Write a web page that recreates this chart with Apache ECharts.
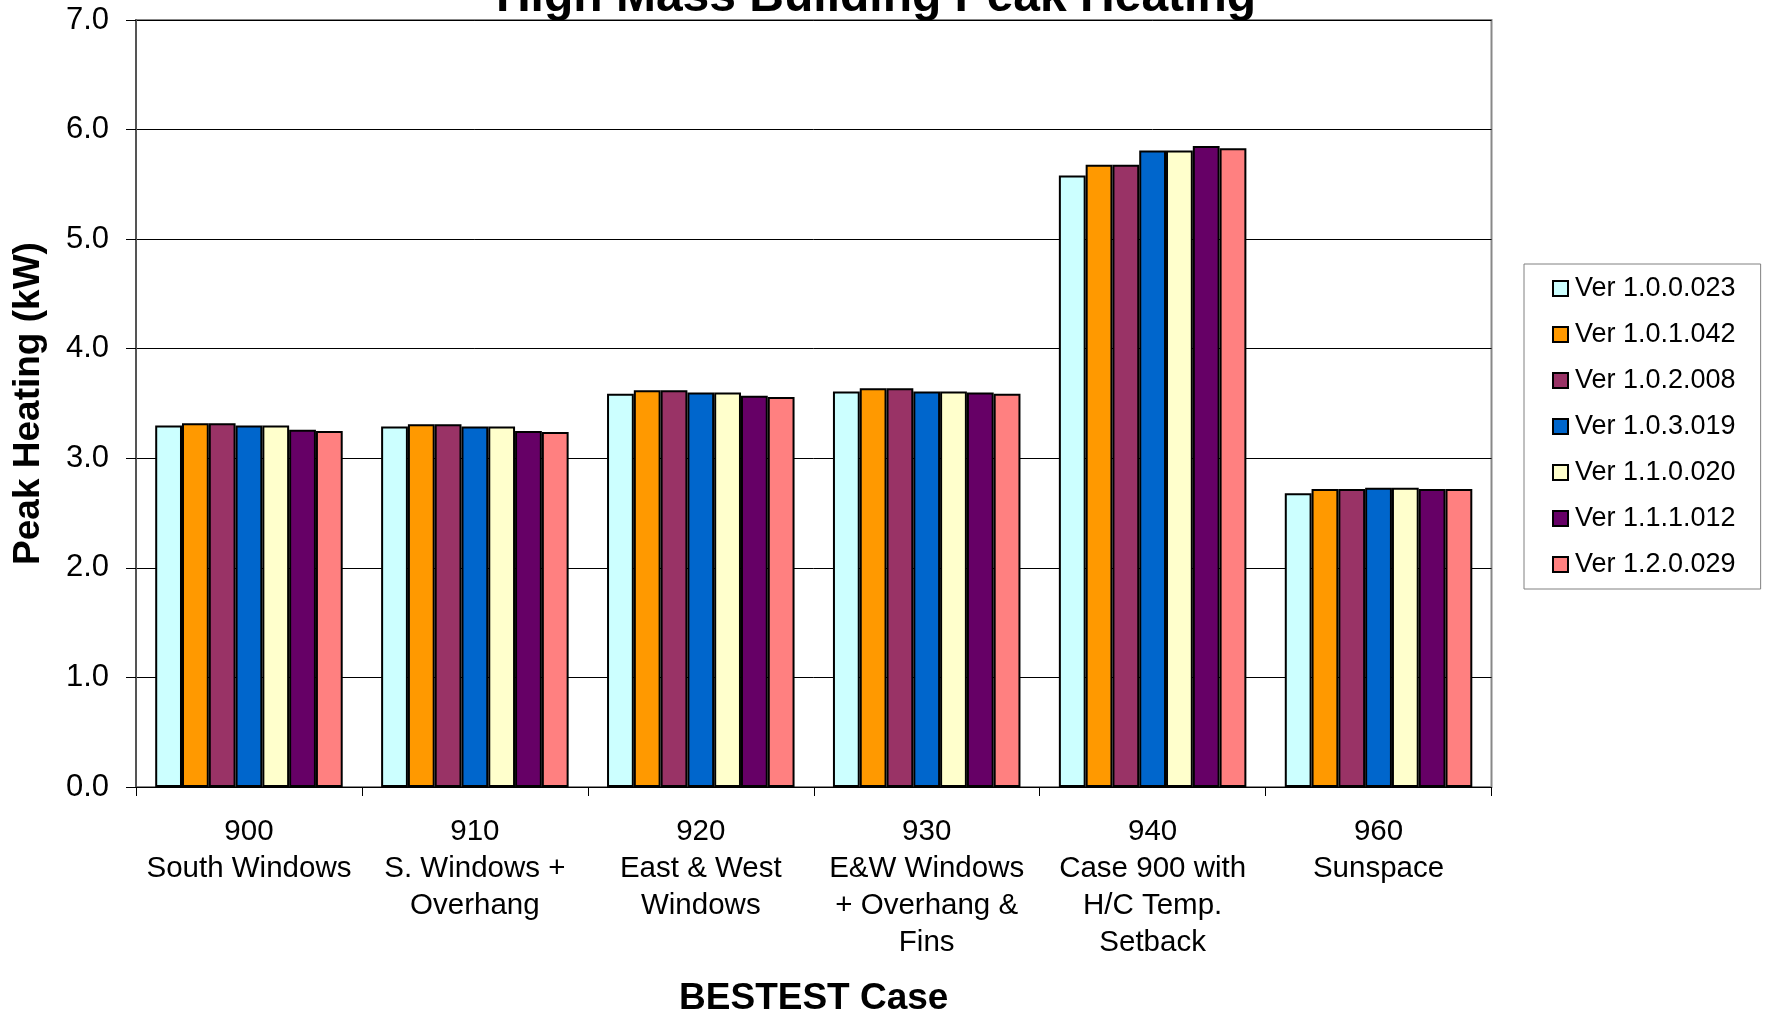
<!DOCTYPE html>
<html>
<head>
<meta charset="utf-8">
<script src="https://cdn.jsdelivr.net/npm/echarts@6/dist/echarts.min.js"></script>
<style>
html,body{margin:0;padding:0;background:#fff;}
#chart{width:1765px;height:1016px;}
</style>
</head>
<body>
<div id="chart"></div>
<script>
var categories = ['900\nSouth Windows', '910\nS. Windows +\nOverhang', '920\nEast & West\nWindows', '930\nE&W Windows\n+ Overhang &\nFins', '940\nCase 900 with\nH/C Temp.\nSetback', '960\nSunspace'];
var seriesNames = ['Ver 1.0.0.023', 'Ver 1.0.1.042', 'Ver 1.0.2.008', 'Ver 1.0.3.019', 'Ver 1.1.0.020', 'Ver 1.1.1.012', 'Ver 1.2.0.029'];
var v1000023 = [3.30, 3.29, 3.59, 3.61, 5.58, 2.68];
var v1010042 = [3.32, 3.31, 3.62, 3.64, 5.68, 2.72];
var v1020008 = [3.32, 3.31, 3.62, 3.64, 5.68, 2.72];
var v1030019 = [3.30, 3.29, 3.60, 3.61, 5.81, 2.73];
var v1100020 = [3.30, 3.29, 3.60, 3.61, 5.81, 2.73];
var v1110012 = [3.26, 3.25, 3.57, 3.60, 5.85, 2.72];
var v1200029 = [3.25, 3.24, 3.56, 3.59, 5.83, 2.72];
var colors = ['#CCFFFF', '#FF9900', '#993366', '#0066CC', '#FFFFCC', '#660066', '#FF8080'];
var allValues = [v1000023, v1010042, v1020008, v1030019, v1100020, v1110012, v1200029];

var FONT = '"Liberation Sans", Arial, sans-serif';
var chart = echarts.init(document.getElementById('chart'));
var series = seriesNames.map(function (n, i) {
  return {
    name: n,
    type: 'bar',
    data: allValues[i],
    barGap: '0%',
    barCategoryGap: '17%',
    itemStyle: { color: colors[i], borderColor: '#000', borderWidth: 2 }
  };
});
chart.setOption({
  animation: false,
  backgroundColor: '#fff',
  title: {
    text: 'High Mass Building Peak Heating',
    left: 876,
    textAlign: 'center',
    top: -26,
    padding: 0,
    textStyle: { fontFamily: FONT, fontSize: 48, fontWeight: 'bold', color: '#000' }
  },
  legend: {
    orient: 'vertical',
    left: 1524,
    top: 264,
    padding: [11, 25, 11, 28],
    borderColor: '#808080',
    borderWidth: 1,
    itemWidth: 15,
    itemHeight: 15,
    itemGap: 19,
    icon: 'rect',
    textStyle: { fontFamily: FONT, fontSize: 27, color: '#000', lineHeight: 26, padding: [0, 0, 0, 2] },
    data: seriesNames
  },
  grid: {
    left: 136, right: 273.5, top: 20, bottom: 229,
    outerBoundsMode: 'none',
    containLabel: false,
    show: true, borderColor: '#888', borderWidth: 2, backgroundColor: '#fff'
  },
  xAxis: {
    type: 'category',
    data: categories,
    name: 'BESTEST Case',
    nameLocation: 'middle',
    nameGap: 193,
    nameTextStyle: { fontFamily: FONT, fontSize: 37, fontWeight: 'bold', color: '#000', verticalAlign: 'top' },
    axisLine: { lineStyle: { color: '#000', width: 1 } },
    axisTick: { show: true, length: 9, interval: 0, lineStyle: { color: '#000' } },
    axisLabel: { interval: 0, fontFamily: FONT, fontSize: 29.5, lineHeight: 37, color: '#000', margin: 26, verticalAlign: 'top' }
  },
  yAxis: {
    type: 'value',
    min: 0, max: 7, interval: 1,
    name: 'Peak Heating (kW)',
    nameLocation: 'middle',
    nameGap: 89,
    nameRotate: 90,
    nameTextStyle: { fontFamily: FONT, fontSize: 37, fontWeight: 'bold', color: '#000' },
    axisLine: { show: true, lineStyle: { color: '#555', width: 2 } },
    axisTick: { show: true, length: 10, lineStyle: { color: '#000' } },
    axisLabel: { fontFamily: FONT, fontSize: 31, color: '#000', margin: 27, formatter: function (v) { return v.toFixed(1); } },
    splitLine: { show: true, lineStyle: { color: '#000', width: 1 } }
  },
  series: series
});
</script>
</body>
</html>
